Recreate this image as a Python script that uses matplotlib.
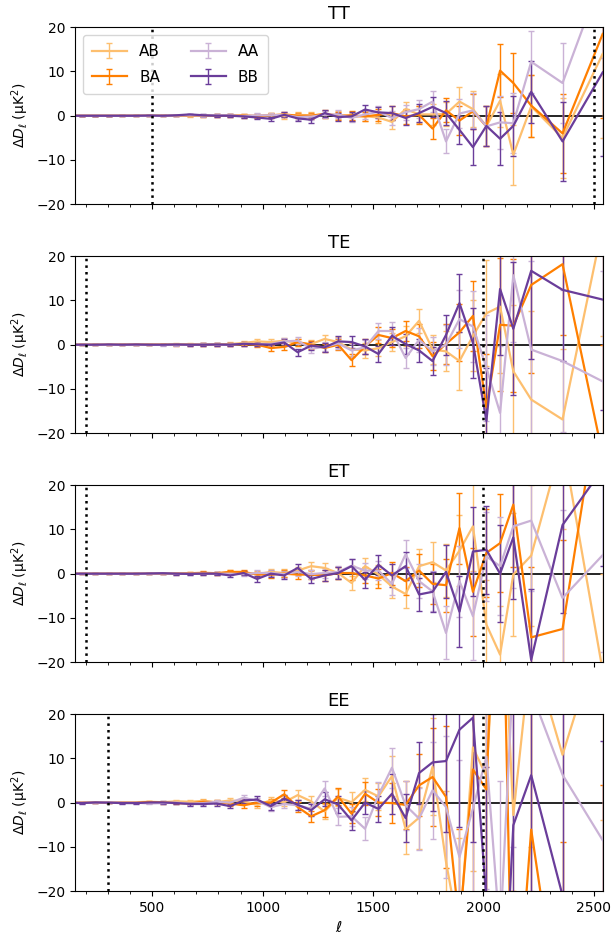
import numpy as np
import matplotlib
matplotlib.use('Agg')
import matplotlib.pyplot as plt
from matplotlib.ticker import MultipleLocator

# bin centres (multipole)
ell = [120, 181, 242, 303, 364, 426, 487, 548, 609, 670, 731, 792,
       853, 914, 975, 1037, 1098, 1159, 1220, 1281, 1342, 1403, 1464, 1525,
       1586, 1648, 1709, 1770, 1831, 1892, 1953, 2014, 2076, 2136, 2217, 2359, 2541]

# ---- TT ----
tt_AB = [0, 0, 0, 0, 0, 0, 0, 0, 0, 0, 0, 0,
         0.05, 0.1, 0, 0.2, -0.1, 0.2, 0.1, 0.3, 0.2, -0.3, -0.1, -0.4,
         -1.4, 1.5, 0.3, 0.3, 0.4, 3.2, 1.5, -2.4, 3.4, -8.8, 2.1, -5.0, 14.0]
tt_BA = [0, 0, 0, 0, 0, 0, 0, 0, 0, 0.05, 0, 0,
         0.05, 0, -0.1, 0.1, 0.3, 0, 0, 0.4, 0, 0.1, -0.15, 0.2,
         0.6, -0.15, 0.2, -2.9, 1.2, -1.1, 1.0, -2.4, 10.2, 7.4, 2.3, -4.0, 18.5]
tt_AA = [0, 0, 0, 0, 0, 0, 0, 0, 0.05, 0.1, 0.05, 0.1,
         0.1, -0.1, 0.1, 0.1, 0.2, -0.3, -0.2, 0.2, 0.3, -0.5, 0.3, 0.9,
         -0.5, 0.8, 1.5, 3.2, -5.8, 0.5, 1.2, -2.4, -1.5, -1.7, 12.2, 7.4, 32.0]
tt_BB = [0, 0, 0, 0, 0, 0, 0.05, 0, 0.1, 0.3, 0.1, 0,
         0, -0.15, -0.4, -0.7, 0.2, -0.6, -0.9, 0.6, -0.3, -0.15, 1.4, 0.75,
         0.6, -0.5, 0.6, 2.0, 0.6, -3.2, -7.1, -2.3, -5.2, -2.3, 5.4, -5.8, 9.8]
tt_err = [0.05, 0.05, 0.05, 0.05, 0.06, 0.08, 0.1, 0.12, 0.15, 0.2, 0.25, 0.3,
          0.35, 0.4, 0.45, 0.5, 0.55, 0.6, 0.7, 0.8, 0.9, 1.0, 1.1, 1.3,
          1.5, 1.7, 2.0, 2.3, 2.7, 3.2, 4.0, 4.5, 6.0, 6.8, 7.0, 9.0, 19.0]

# ---- TE ----
te_AB = [0, 0, 0, 0, 0.05, 0, 0.1, 0, 0.1, 0.1, 0.1, 0.1,
         0.15, 0.4, 0.75, 0.6, 0.9, 0.4, 0.15, 1.3, 0.6, -1.1, -1.3, -0.8,
         0.6, 1.9, 5.4, -1.1, -1.5, -3.7, 2.0, 7.1, 8.6, -6.0, -12.4, -16.9, 27.0]
te_BA = [0, 0, 0, 0, 0, 0.05, 0, 0, 0, 0, 0, 0,
         0, 0.1, 0, -0.75, -0.5, 0.6, 0, -0.75, 0, -3.5, -0.4, 2.2,
         1.5, 3.1, 1.9, -2.6, 0.2, 2.8, 6.5, -14.2, 4.5, 4.3, 13.5, 18.2, -25.0]
te_AA = [0, 0, 0, 0, 0, 0, 0, -0.05, 0, 0, 0.05, 0,
         0, 0.2, 0.15, 0.15, 0.75, 0.9, -0.9, -0.5, 0.3, -1.3, -0.6, 3.1,
         3.1, -3.0, 1.1, -1.5, 0, 5.8, 4.1, -5.2, -15.4, 15.7, -1.1, -3.7, -8.3]
te_BB = [0, 0, 0, 0.05, 0, 0.05, 0, 0, 0.05, 0, 0, 0.05,
         0, 0.2, 0.1, 0, 0.5, -1.7, -0.2, -0.6, 0.75, 0.6, -0.4, -2.1,
         2.0, 0.15, -1.3, -3.7, 2.2, 9.4, 0.4, -17.2, 12.6, 3.6, 16.7, 12.4, 10.2]
te_err = [0.05, 0.05, 0.05, 0.06, 0.08, 0.1, 0.12, 0.15, 0.2, 0.25, 0.3, 0.35,
          0.4, 0.5, 0.5, 0.6, 0.7, 0.8, 0.9, 1.0, 1.2, 1.4, 1.6, 1.8,
          2.0, 2.3, 2.7, 3.2, 4.5, 6.5, 8.0, 12.0, 15.0, 15.0, 20.0, 16.0, 25.0]

# ---- ET ----
et_AB = [0, 0, 0, 0, 0, 0, 0, 0.05, 0, 0.1, 0.1, 0,
         0.4, 0.15, -0.1, 0.4, 0.15, 0.7, 1.7, 1.3, 0.15, -2.1, 1.7, -0.2,
         -2.9, -4.6, 1.7, 2.6, 0.7, 5.2, 10.7, -11.5, -18.3, -0.2, 4.1, 30.0, -22.0]
et_BA = [0, 0, 0, 0, 0, 0, 0, 0, 0.05, 0.1, 0.2, 0.1,
         0.4, 0.4, -0.2, -0.2, 0, -0.2, -0.2, -0.4, 0.15, 0.15, -0.4, -1.1,
         0.15, -1.7, 0.7, -2.3, -2.6, 10.3, -4.1, 4.7, 6.9, 15.6, -14.4, -12.5, 45.0]
et_AA = [0, 0, 0, 0, 0, 0, 0, 0.05, 0, 0, 0, 0,
         0, -0.1, 0.15, 0.15, -0.1, 0.4, -0.1, 0.15, 0.4, 1.8, 0.7, 0.7,
         -2.3, 4.4, -1.7, -4.0, -13.4, -1.7, -9.6, 3.9, 1.7, 10.7, 12.0, -5.5, 4.2]
et_BB = [0, 0, 0, 0, 0, 0, 0.05, 0.1, 0, -0.05, 0, 0,
         -0.4, 0.15, -1.2, 0, -0.4, 1.3, -1.2, -0.4, 0.15, 1.7, -1.4, 2.0,
         -0.4, 1.7, -4.7, -4.1, 0.4, -8.6, 5.0, 5.4, 0, 8.2, -19.5, 11.0, 23.7]
et_err = [0.05, 0.05, 0.05, 0.06, 0.08, 0.1, 0.12, 0.15, 0.2, 0.25, 0.3, 0.35,
          0.4, 0.5, 0.6, 0.7, 0.8, 0.9, 1.0, 1.2, 1.4, 1.6, 1.8, 2.2,
          2.6, 3.2, 3.8, 4.5, 6.0, 8.0, 10.0, 10.0, 11.0, 14.0, 16.0, 20.0, 22.0]

# ---- EE ----
ee_AB = [0, 0, 0.05, 0, 0.1, 0.1, 0.2, 0.1, 0.3, 0.2, 0.4, 0.1,
         0.5, 0.3, -0.5, 0.5, 0.1, 1.7, 0.3, -2.0, 1.1, 0.1, 2.9, 1.4,
         6.0, -6.0, -3.4, 8.1, -13.4, -30.0, 12.5, 6.0, 60.0, -2.8, 35.0, 10.8, 40.0]
ee_BA = [0, 0, 0, 0, 0, 0, 0.1, 0, -0.1, -0.2, 0.2, 0.1,
         -0.2, -0.6, 0, 0, 1.9, -1.0, -3.1, -1.7, 1.4, -2.5, 2.0, 0,
         -0.1, -0.5, 3.9, 5.8, 1.3, -28.0, 7.5, 3.0, 80.0, -60.0, -6.1, -54.0, -40.0]
ee_AA = [0, 0, 0, 0.05, 0, 0, -0.2, -0.1, 0, -0.2, -0.1, 0.2,
         0, 1.1, 0.4, -1.0, -0.3, -0.6, -1.4, 3.2, -3.2, -3.1, -5.9, 1.7,
         7.9, -0.6, -3.6, 2.8, -1.0, -12.3, -1.3, 10.4, -30.0, 30.0, 25.0, 6.3, -8.5]
ee_BB = [0, -0.1, 0.05, 0, -0.1, -0.1, 0.05, 0.05, -0.1, -0.3, -0.3, -0.2,
         -0.8, 0.5, 0.7, -0.8, 0.9, -0.5, -1.7, 0.75, -0.4, -4.0, 0, -1.4,
         2.0, -3.5, 6.7, 9.1, 9.4, 16.5, 19.2, -22.0, -65.0, -5.1, 6.2, -21.0, -30.0]
ee_err = [0.1, 0.1, 0.1, 0.1, 0.12, 0.15, 0.2, 0.25, 0.3, 0.35, 0.4, 0.45,
          0.5, 0.6, 0.7, 0.8, 0.9, 1.1, 1.3, 1.6, 1.9, 2.2, 2.6, 3.0,
          4.5, 5.5, 7.0, 11.0, 16.0, 22.0, 28.0, 30.0, 35.0, 40.0, 45.0, 45.0, 44.0]

panels = [
    ('TT', [tt_AB, tt_BA, tt_AA, tt_BB], tt_err, (500, 2500)),
    ('TE', [te_AB, te_BA, te_AA, te_BB], te_err, (200, 2000)),
    ('ET', [et_AB, et_BA, et_AA, et_BB], et_err, (200, 2000)),
    ('EE', [ee_AB, ee_BA, ee_AA, ee_BB], ee_err, (300, 2000)),
]
labels = ['AB', 'BA', 'AA', 'BB']
colors = ['#fdbf6f', '#ff7f00', '#cab2d6', '#6a3d9a']

fig, axes = plt.subplots(4, 1, figsize=(6.15, 9.4), dpi=100, sharex=True)
fig.subplots_adjust(left=0.122, right=0.98, top=0.971, bottom=0.052, hspace=0.294)

for ax, (name, series, err, cuts) in zip(axes, panels):
    ax.axhline(0, color='k', lw=1.2, zorder=1)
    for y, lab, c in zip(series, labels, colors):
        ax.errorbar(ell, y, yerr=err, color=c, lw=1.6, elinewidth=1.0,
                    capsize=2, capthick=1.0, label=lab, zorder=2)
    for xc in cuts:
        ax.axvline(xc, color='k', ls=':', lw=1.8, zorder=3)
    ax.set_ylim(-20, 20)
    ax.set_xlim(150, 2541)
    ax.set_yticks([-20, -10, 0, 10, 20])
    ax.xaxis.set_major_locator(MultipleLocator(500))
    ax.xaxis.set_minor_locator(MultipleLocator(100))
    ax.set_title(name, fontsize=13)
    ax.set_ylabel(r'$\Delta D_\ell$ ($\mathrm{\mu K^2}$)')

axes[0].legend(ncol=2, loc='upper left', fontsize=11, handlelength=2.3,
               labelspacing=0.7, borderpad=0.6)
axes[-1].set_xlabel(r'$\ell$', fontsize=11)

plt.savefig('out.png', dpi=100)
